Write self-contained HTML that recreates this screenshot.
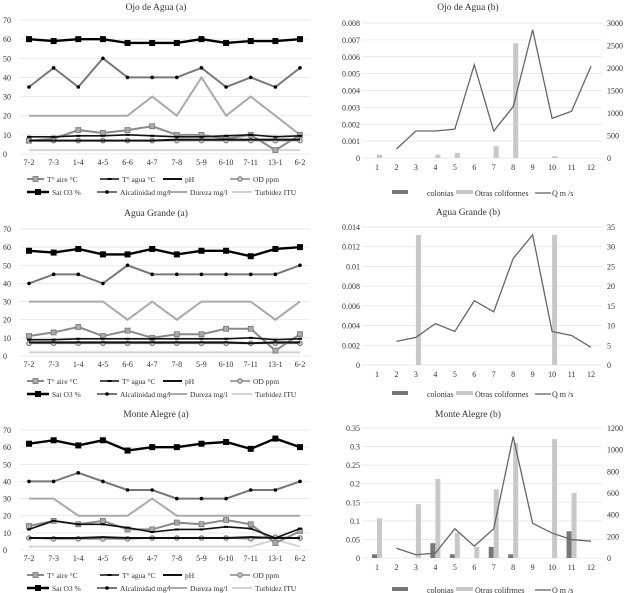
<!DOCTYPE html>
<html><head><meta charset="utf-8"><style>
body{margin:0;background:#fff;width:624px;height:593px;overflow:hidden}
svg{display:block;font-family:"Liberation Serif",serif}
</style></head><body>
<svg id="s" width="624" height="593"></svg>
<script>
const cats=["7-2","7-3","1-4","4-5","6-6","4-7","7-8","5-9","6-10","7-11","13-1","6-2"];
const yTicksA=[0,10,20,30,40,50,60,70];
const seriesNames=["T° aire °C","T° agua °C","pH","OD ppm","Sat O3 %","Alcalinidad mg/l","Dureza mg/l","Turbidez ITU"];
// Ojo de Agua (a)
const ojoAire=[7,8,12.5,11,12.5,14.5,10,10,8,10,2,10];
const ojoAgua=[9,9,9.5,9.5,10,9.5,9,9,9.5,10,9,9.5];
const ojoPH=[7,7,7,7,7,7,7.5,7.5,7.5,7.5,7.5,7.5];
const ojoOD=[7,7,7,7,7,7,7,7,7,7,7,7];
const ojoSat=[60,59,60,60,58,58,58,60,58,59,59,60];
const ojoAlc=[35,45,35,50,40,40,40,45,35,40,35,45];
const ojoDur=[20,20,20,20,20,30,20,40,20,30,20,10];
const ojoTur=[2,2,2,2,2,2,2,2,2,2,2,2];
// Agua Grande (a)
const agAire=[11,13,16,11,14,10,12,12,15,15,3,12];
const agAgua=[9,9,9.5,9.5,9.5,9.5,9.5,9.5,9.5,10,9,9.5];
const agPH=[7.5,7.5,7.5,7.5,7.5,7.5,7.5,7.5,7.5,7,7.5,7.5];
const agOD=[7,7,7,7,7,7,7,7,7,7,7,7];
const agSat=[58,57,59,56,56,59,56,58,58,55,59,60];
const agAlc=[40,45,45,40,50,45,45,45,45,45,45,50];
const agDur=[30,30,30,30,20,30,20,30,30,30,20,30];
const agTur=[2,2,2,2,2,2,2,2,2,2,2,2];
// Monte Alegre (a)
const maAire=[14,17,15,17,12,12,16,15,17.5,15,4,11];
const maAgua=[12,17,15,15,13,10.5,12,12,13.5,12.5,7,12.5];
const maPH=[7,7,7,7.5,7,7,7,7,7,7.5,7,7];
const maOD=[7,6.5,6.5,6.5,6.5,7,7,7,7,6.5,7.5,7];
const maSat=[62,64,61,64,58,60,60,62,63,59,65,60];
const maAlc=[40,40,45,40,35,35,30,30,30,35,35,40];
const maDur=[30,30,20,20,20,30,20,20,20,20,20,20];
const maTur=[2,2,2,2,2,2,2,2,2,2,6,2];
// (b) charts
const months=["1","2","3","4","5","6","7","8","9","10","11","12"];
const ojoCol=[0,0,0,0,0,0,0,0,0,0,0,0];
const ojoOtras=[0.0002,0,0,0.0002,0.0003,0,0.0007,0.0068,0,0.0001,0,0];
const ojoQ=[null,200,600,600,640,2070,600,1140,2850,880,1040,2040];
const ojoLT=["0","0.001","0.002","0.003","0.004","0.005","0.006","0.007","0.008"];
const ojoRT=["0","500","1000","1500","2000","2500","3000"];
const agCol=[0,0,0,0,0,0,0,0,0,0,0,0];
const agOtras=[0,0,0.0132,0,0,0,0,0,0,0.0132,0,0];
const agQ=[null,6,7,10.5,8.5,16.3,13.5,27,33,8.5,7.5,4.5];
const agLT=["0","0.002","0.004","0.006","0.008","0.01","0.012","0.014"];
const agRT=["0","5","10","15","20","25","30","35"];
const maCol=[0.01,0,0,0.04,0.01,0,0.03,0.01,0,0,0.072,0];
const maOtras=[0.107,0,0.145,0.213,0.068,0.03,0.185,0.31,0,0.32,0.175,0];
const maQ=[null,90,30,45,270,110,270,1120,320,230,170,155];
const maLT=["0","0.05","0.1","0.15","0.2","0.25","0.3","0.35"];
const maRT=["0","200","400","600","800","1000","1200"];

const S=document.getElementById('s');const NS="http://www.w3.org/2000/svg";
function el(t,a,p){const e=document.createElementNS(NS,t);for(const k in a)e.setAttribute(k,a[k]);(p||S).appendChild(e);return e;}
function txt(x,y,s,a,p){const e=el('text',Object.assign({x:x,y:y,'font-size':8,fill:'#333'},a||{}),p);e.textContent=s;return e;}

const styles=[
 {c:'#8a8a8a',w:2,m:'sq',mc:'#aaa'},
 {c:'#111',w:1.6,m:'dash'},
 {c:'#111',w:2,m:null},
 {c:'#888',w:1.6,m:'circ'},
 {c:'#000',w:2.4,m:'sqb'},
 {c:'#777',w:2,m:'dia'},
 {c:'#aaa',w:2,m:null},
 {c:'#d4d4d4',w:2,m:null}
];
function marker(g,x,y,st){
 if(st.m==='sq'){const m=el('rect',{x:x-2.5,y:y-2.5,width:5,height:5,fill:st.mc,stroke:'#777','stroke-width':0.8},g);}
 else if(st.m==='sqb'){el('rect',{x:x-3,y:y-3,width:6,height:6,fill:'#000'},g);}
 else if(st.m==='circ'){el('circle',{cx:x,cy:y,r:2.3,fill:'#ccc',stroke:'#777','stroke-width':1},g);}
 else if(st.m==='dia'){el('circle',{cx:x,cy:y,r:1.8,fill:'#000'},g);}
 else if(st.m==='dash'){el('line',{x1:x-2,y1:y,x2:x+2,y2:y,stroke:'#000','stroke-width':2},g);}
}
function chartA(name,title,top,y70,y0,data){
 const g=el('g',{});
 const t=txt(156,top,title,{'text-anchor':'middle','font-size':9.5});
 const x0=29,x1=300,step=(x1-x0)/(cats.length-1);
 const X=i=>x0+i*step, Y=v=>y0-(v/70)*(y0-y70);
 yTicksA.forEach(v=>{el('line',{x1:20,x2:310,y1:Y(v),y2:Y(v),stroke:'#e4e4e4','stroke-width':0.8},g);
  const l=txt(3,Y(v)+3,String(v),{},g);});
 cats.forEach((c,i)=>{const l=txt(X(i),y0+11,c,{'text-anchor':'middle'},g);});
 const order=[7,6,5,0,3,2,1,4];
 order.forEach(k=>{const d=data[k],st=styles[k];
  const p=el('polyline',{points:d.map((v,i)=>X(i)+','+Y(v)).join(' '),fill:'none',stroke:st.c,'stroke-width':st.w},g);
  
  d.forEach((v,i)=>marker(g,X(i),Y(v),st));});
 const lx=[[27,47],[100,122],[163,185],[230,253]],lx2=[[27,52],[97,120],[167,190],[232,255]];
 for(let k=0;k<8;k++){const r=k<4?0:1,pos=(k<4?lx:lx2)[k%4],yy=y0+25+r*13,st=styles[k];
  const lg=el('g',{},g);
  el('line',{x1:pos[0],x2:pos[1]-3,y1:yy,y2:yy,stroke:st.c,'stroke-width':st.w},lg);
  marker(lg,(pos[0]+pos[1]-3)/2,yy,st);
  txt(pos[1],yy+3,seriesNames[k],{'font-size':7.5},lg);}
}
function chartB(name,title,top,yTop,y0,col,otr,q,lt,rt,lmax,rmax,legY){
 const g=el('g',{});
 const t=txt(468,top,title,{'text-anchor':'middle','font-size':9.5},g);
 const x0=377,x1=591,step=(x1-x0)/11;
 const X=i=>x0+i*step,YL=v=>y0-(v/lmax)*(y0-yTop),YR=v=>y0-(v/rmax)*(y0-yTop);
 lt.forEach((s,i)=>{const yy=y0-i*(y0-yTop)/(lt.length-1);
  el('line',{x1:362,x2:602,y1:yy,y2:yy,stroke:'#e4e4e4','stroke-width':0.8},g);
  const l=txt(360,yy+3,s,{'text-anchor':'end'},g);});
 rt.forEach((s,i)=>{const yy=y0-i*(y0-yTop)/(rt.length-1);
  const l=txt(607,yy+3,s,{},g);});
 months.forEach((m,i)=>{const l=txt(X(i),y0+12,m,{'text-anchor':'middle'},g);});
 col.forEach((v,i)=>{if(v>0){const b=el('rect',{x:X(i)-5,y:YL(v),width:5,height:y0-YL(v),fill:'#777'},g);}});
 otr.forEach((v,i)=>{if(v>0){const b=el('rect',{x:X(i),y:YL(v),width:5,height:y0-YL(v),fill:'#c8c8c8'},g);}});
 const pts=[];q.forEach((v,i)=>{if(v!==null)pts.push(X(i)+','+YR(v));});
 const p=el('polyline',{points:pts.join(' '),fill:'none',stroke:'#666','stroke-width':1.3},g);
 const l1=el('g',{},g);
 el('rect',{x:392,y:legY-3,width:16,height:4,fill:'#777'},l1);txt(427,legY+3,'colonias',{},l1);
 const l2=el('g',{},g);
 el('rect',{x:456,y:legY-3,width:17,height:4,fill:'#c8c8c8'},l2);txt(475,legY+3,name.indexOf('monte')>=0?'Otras colifrmes':'Otras coliformes',{},l2);
 const l3=el('g',{},g);
 el('line',{x1:535,x2:551,y1:legY,y2:legY,stroke:'#666','stroke-width':1.3},l3);txt(552,legY+3,'Q m  /s',{},l3);
}
chartA('ojo-de-agua-a-chart','Ojo de Agua (a)',10,20,154,[ojoAire,ojoAgua,ojoPH,ojoOD,ojoSat,ojoAlc,ojoDur,ojoTur]);
chartA('agua-grande-a-chart','Agua Grande (a)',216,229,356,[agAire,agAgua,agPH,agOD,agSat,agAlc,agDur,agTur]);
chartA('monte-alegre-a-chart','Monte Alegre (a)',417,430,550,[maAire,maAgua,maPH,maOD,maSat,maAlc,maDur,maTur]);
chartB('ojo-de-agua-b-chart','Ojo de Agua (b)',10,23,158,ojoCol,ojoOtras,ojoQ,ojoLT,ojoRT,0.008,3000,193);
chartB('agua-grande-b-chart','Agua Grande (b)',215,227,365,agCol,agOtras,agQ,agLT,agRT,0.014,35,394);
chartB('monte-alegre-b-chart','Monte Alegre (b)',417,428,558,maCol,maOtras,maQ,maLT,maRT,0.35,1200,590);
</script>
</body></html>
